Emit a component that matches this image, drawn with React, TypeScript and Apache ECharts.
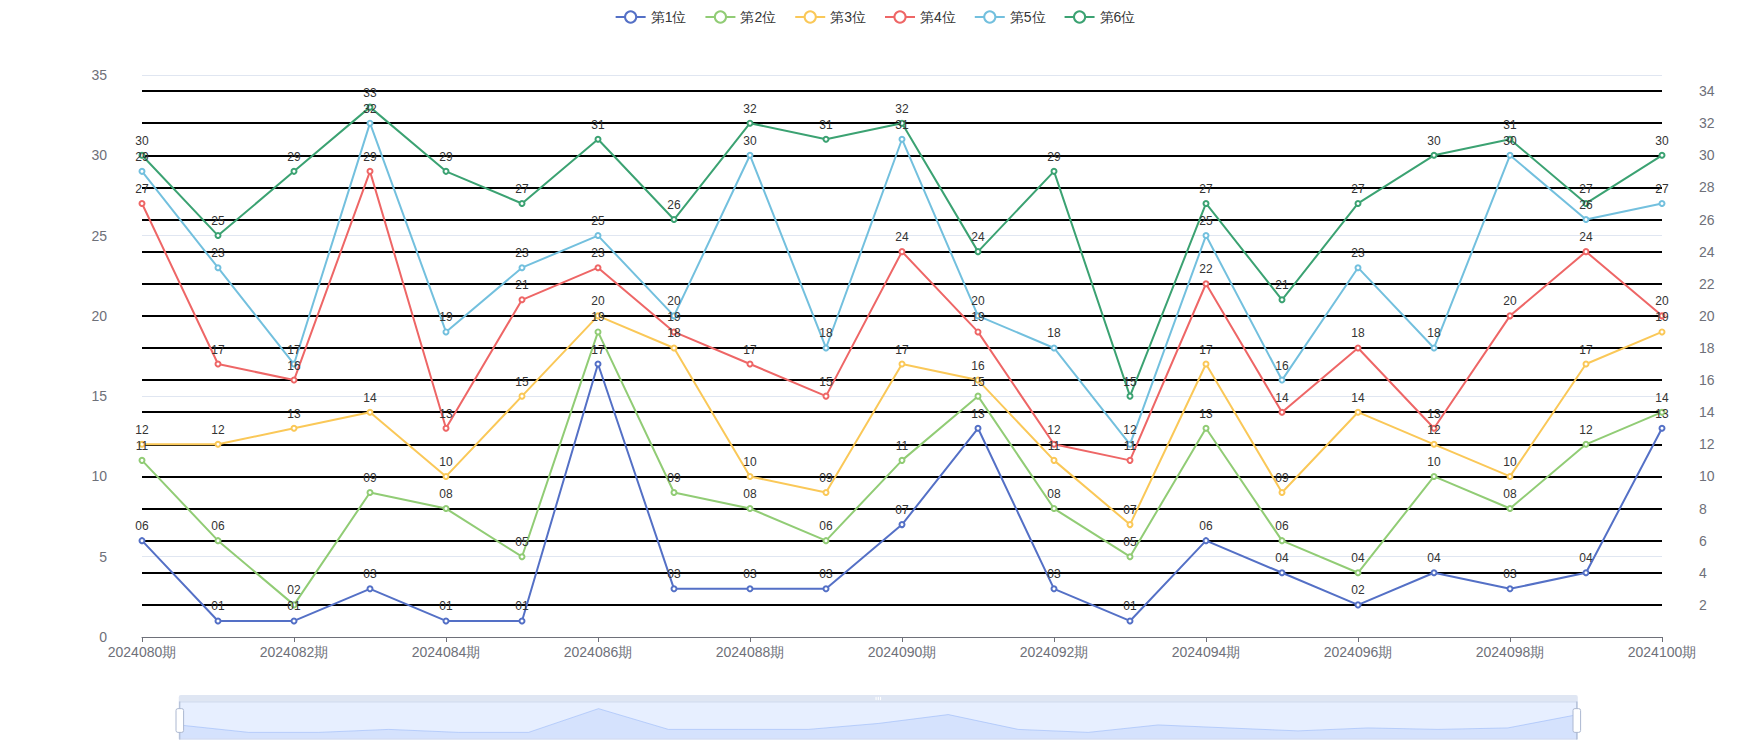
import React, { useEffect, useRef } from "react";
import * as echarts from "echarts";

const categories = [
  "2024080期", "2024081期", "2024082期", "2024083期", "2024084期", "2024085期", "2024086期",
  "2024087期", "2024088期", "2024089期", "2024090期", "2024091期", "2024092期", "2024093期",
  "2024094期", "2024095期", "2024096期", "2024097期", "2024098期", "2024099期", "2024100期",
];

const seriesNames = ["第1位", "第2位", "第3位", "第4位", "第5位", "第6位"];
const palette = ["#5470c6", "#91cc75", "#fac858", "#ee6666", "#73c0de", "#3ba272"];

const pos1 = [6, 1, 1, 3, 1, 1, 17, 3, 3, 3, 7, 13, 3, 1, 6, 4, 2, 4, 3, 4, 13];
const pos2 = [11, 6, 2, 9, 8, 5, 19, 9, 8, 6, 11, 15, 8, 5, 13, 6, 4, 10, 8, 12, 14];
const pos3 = [12, 12, 13, 14, 10, 15, 20, 18, 10, 9, 17, 16, 11, 7, 17, 9, 14, 12, 10, 17, 19];
const pos4 = [27, 17, 16, 29, 13, 21, 23, 19, 17, 15, 24, 19, 12, 11, 22, 14, 18, 13, 20, 24, 20];
const pos5 = [29, 23, 17, 32, 19, 23, 25, 20, 30, 18, 31, 20, 18, 12, 25, 16, 23, 18, 30, 26, 27];
const pos6 = [30, 25, 29, 33, 29, 27, 31, 26, 32, 31, 32, 24, 29, 15, 27, 21, 27, 30, 31, 27, 30];

const allSeries = [pos1, pos2, pos3, pos4, pos5, pos6];

export default function App() {
  const ref = useRef<HTMLDivElement>(null);
  useEffect(() => {
    if (!ref.current) return;
    const chart = echarts.init(ref.current, undefined, { renderer: "svg" });
    chart.setOption({
      animation: false,
      color: palette,
      legend: {
        top: 5,
        data: seriesNames,
        itemWidth: 30,
        itemHeight: 14,
        itemGap: 18,
        textStyle: { fontSize: 14, color: "#333" },
      },
      grid: { left: 142, right: 88, top: 75, bottom: 113 },
      xAxis: {
        type: "category",
        boundaryGap: false,
        data: categories,
        axisLine: { lineStyle: { color: "#6E7079" } },
        axisTick: { lineStyle: { color: "#6E7079" } },
        axisLabel: { interval: 1, fontSize: 14, color: "#6E7079" },
      },
      yAxis: [
        {
          type: "value",
          min: 0,
          max: 35,
          interval: 5,
          axisLabel: { fontSize: 14, color: "#6E7079", margin: 35 },
          splitLine: { lineStyle: { color: "#E0E6F1" } },
        },
        {
          type: "value",
          min: 0,
          max: 35,
          interval: 2,
          position: "right",
          axisLabel: { fontSize: 14, color: "#6E7079", showMinLabel: false, showMaxLabel: false, margin: 37 },
          splitLine: { show: true, showMinLine: false, showMaxLine: false, lineStyle: { color: "#000", width: 2 } },
        },
      ],
      dataZoom: [
        {
          type: "slider",
          left: 176,
          right: 175,
          bottom: 17,
          height: 38,
          start: 0,
          end: 100,
          borderColor: "#D2DBEE",
          fillerColor: "rgba(135,175,274,0.2)",
          backgroundColor: "rgba(47,69,84,0)",
          dataBackground: {
            lineStyle: { color: "#D2DBEE", width: 0.5 },
            areaStyle: { color: "#D2DBEE", opacity: 0.2 },
          },
          selectedDataBackground: {
            lineStyle: { color: "#8FB0F7", width: 0.5 },
            areaStyle: { color: "#8FB0F7", opacity: 0.2 },
          },
          handleStyle: { color: "#fff", borderColor: "#ACB8D1" },
          moveHandleStyle: { color: "#D2DBEE", opacity: 0.7 },
          textStyle: { color: "#6E7079" },
        },
      ],
      series: allSeries.map((d, i) => ({
        name: seriesNames[i],
        type: "line",
        data: d,
        yAxisIndex: 0,
        symbol: "emptyCircle",
        symbolSize: 5,
        lineStyle: { width: 2 },
        label: {
          show: true,
          position: "top",
          color: "#333",
          fontSize: 12,
          formatter: (p: any) => String(p.value).padStart(2, "0"),
        },
      })),
    });
    return () => chart.dispose();
  }, []);
  return (
    <div
      ref={ref}
      style={{ position: "fixed", left: 0, top: 0, width: 1750, height: 750, background: "#fff" }}
    />
  );
}
